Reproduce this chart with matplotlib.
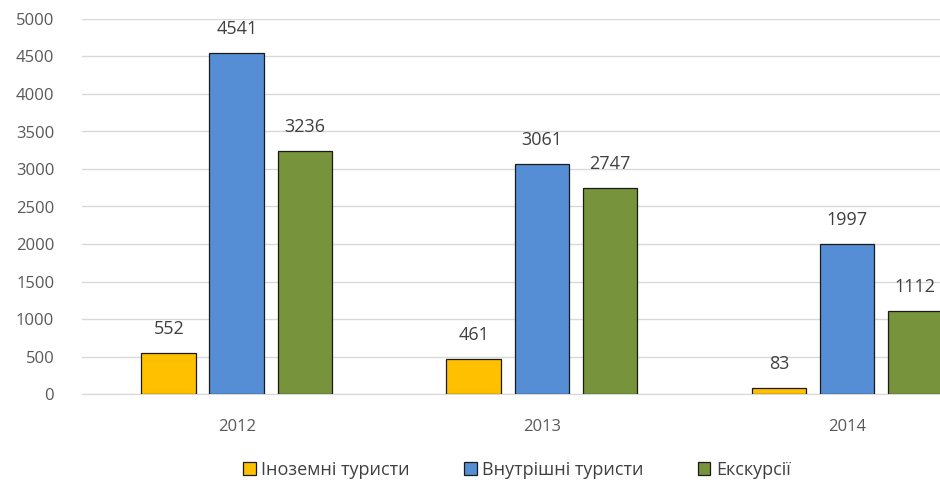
import numpy as np
import matplotlib
matplotlib.use('Agg')
import matplotlib.pyplot as plt

years = ['2012', '2013', '2014']
series = ['Іноземні туристи', 'Внутрішні туристи', 'Екскурсії']
foreign = [552, 461, 83]
domestic = [4541, 3061, 1997]
excursions = [3236, 2747, 1112]
colors = ['#ffc000', '#558ed5', '#77933c']

plt.rcParams['font.family'] = ['Open Sans', 'DejaVu Sans']

fig = plt.figure(figsize=(9.4, 4.9), dpi=100)
ax = fig.add_axes([82 / 940, 96 / 490, 1 - 82 / 940, (394 - 19) / 490])

x = np.arange(len(years))
w = 0.18
off = 0.223
for i, (vals, c, name) in enumerate(zip([foreign, domestic, excursions], colors, series)):
    bars = ax.bar(x + (i - 1) * off, vals, w, color=c, edgecolor='#1a1a1a',
                  linewidth=0.9, label=name, zorder=3)
    for b, v in zip(bars, vals):
        ax.text(b.get_x() + b.get_width() / 2, v + 200, str(v), ha='center',
                va='bottom', fontsize=13, color='#404040')

ax.set_ylim(0, 5000)
ax.set_yticks(range(0, 5001, 500))
ax.set_xlim(-0.508, 2.305)
ax.set_xticks(x)
ax.set_xticklabels(years)
ax.grid(axis='y', color='#d9d9d9', linewidth=1, zorder=0)
for s in ['left', 'right', 'top']:
    ax.spines[s].set_visible(False)
ax.spines['bottom'].set_color('#d9d9d9')
ax.tick_params(length=0, labelsize=12, colors='#595959')
ax.tick_params(axis='y', pad=20)
ax.tick_params(axis='x', pad=18)

leg = fig.legend(loc='center', bbox_to_anchor=(517 / 940, 20 / 490), ncol=3, frameon=False,
                 fontsize=13, handlelength=0.7, handleheight=0.7, columnspacing=3.0,
                 handletextpad=0.3)
for t in leg.get_texts():
    t.set_color('#404040')

fig.savefig('out.png', dpi=100)
